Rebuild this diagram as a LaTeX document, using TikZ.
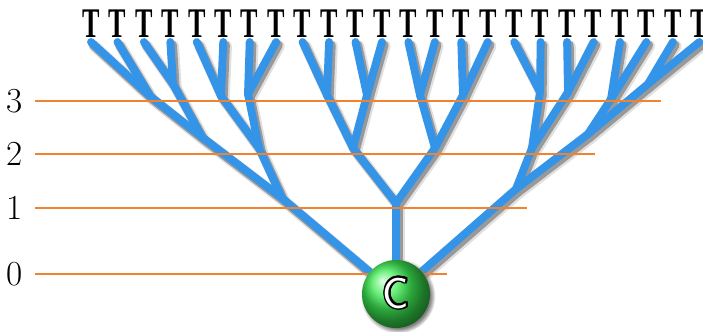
\documentclass[tikz,border=0pt]{standalone}
\usepackage{fontspec}
\newfontfamily\leaffont{Liberation Serif}
\usepackage{contour}
\usetikzlibrary{shadows}
\definecolor{treeblue}{RGB}{52,148,232}
\definecolor{levelorange}{RGB}{240,130,48}
\definecolor{ballgreen}{RGB}{60,236,82}
\contourlength{1.2pt}
\pgfdeclarelayer{background}
\pgfsetlayers{background,main}
\tikzset{
  branch/.style={line width=5.6pt, treeblue, line cap=round},
  branchhalo/.style={line width=8pt, black!12, line cap=round,
    transform canvas={shift={(2.2pt,-2.8pt)}}},
  branchshadow/.style={line width=6.2pt, black!40, line cap=round,
    transform canvas={shift={(1.6pt,-2.2pt)}}},
  leaf/.style={font=\leaffont\bfseries\fontsize{30}{30}\selectfont,
    inner sep=0pt, outer xsep=0pt, outer ysep=3pt, anchor=south},
  level/.style={levelorange, line width=1.8pt},
  levellabel/.style={font=\fontsize{25}{27}\selectfont, inner sep=0pt},
  ball/.style={circle, minimum size=1.7cm, inner sep=0pt, ball color=ballgreen,
    circular drop shadow, font=\sffamily\fontsize{31}{31}\selectfont}
}
\begin{document}
\begin{tikzpicture}[x=0.025cm, y=-0.025cm]
\useasboundingbox (0,0) rectangle (703,331);

% leaves
\foreach \i in {0,...,23}
  \node[leaf] (t\i) at ({91+26.45*\i},42) {\scalebox{0.62}[1]{T}};

% root
\node[ball] (C) at (396,294) {\contour{black}{\textcolor{white}{C}}};

% branch points, left part
\coordinate (l3a) at (150,96);
\coordinate (l3b) at (173,84);
\coordinate (l3c) at (221,96);
\coordinate (l3d) at (248,94);
\coordinate (l2a) at (202,137);
\coordinate (l2b) at (259,148);
\coordinate (l1) at (282,198);
% middle part
\coordinate (c3a) at (327,95);
\coordinate (c3b) at (367,95);
\coordinate (c3c) at (420,95);
\coordinate (c3d) at (463,95);
\coordinate (c2a) at (353,148);
\coordinate (c2b) at (435,148);
\coordinate (c1) at (396,203);
% right part
\coordinate (r3a) at (540,92);
\coordinate (r3b) at (568,92);
\coordinate (r3c) at (611,99);
\coordinate (r3d) at (648,84);
\coordinate (r2a) at (532,148);
\coordinate (r2b) at (588,134);
\coordinate (r1) at (516,189);

\def\edges{t0.south/l3a, t1.south/l3a, t2.south/l3b, t3.south/l3b,
  t4.south/l3c, t5.south/l3c, t6.south/l3d, t7.south/l3d,
  l3a/l2a, l3b/l2a, l3c/l2b, l3d/l2b, l2a/l1, l2b/l1, l1/C,
  t8.south/c3a, t9.south/c3a, t10.south/c3b, t11.south/c3b,
  t12.south/c3c, t13.south/c3c, t14.south/c3d, t15.south/c3d,
  c3a/c2a, c3b/c2a, c3c/c2b, c3d/c2b, c2a/c1, c2b/c1, c1/C,
  t16.south/r3a, t17.south/r3a, t18.south/r3b, t19.south/r3b,
  t20.south/r3c, t21.south/r3c, t22.south/r3d, t23.south/r3d,
  r3a/r2a, r3b/r2a, r3c/r2b, r3d/r2b, r2a/r1, r2b/r1, r1/C}

\begin{pgfonlayer}{background}
  \foreach \a/\b in \edges
    \draw[branchhalo] (\a) -- (\b);
  \foreach \a/\b in \edges
    \draw[branchshadow] (\a) -- (\b);
  \foreach \a/\b in \edges
    \draw[branch] (\a) -- (\b);
  % levels
  \foreach \n/\y/\e in {0/274/447, 1/208/527, 2/154/595, 3/101/661} {
    \node[levellabel] (lab\n) at (15,\y) {\n};
    \draw[level] (35,\y) -- (\e,\y);
  }
\end{pgfonlayer}
\end{tikzpicture}
\end{document}
